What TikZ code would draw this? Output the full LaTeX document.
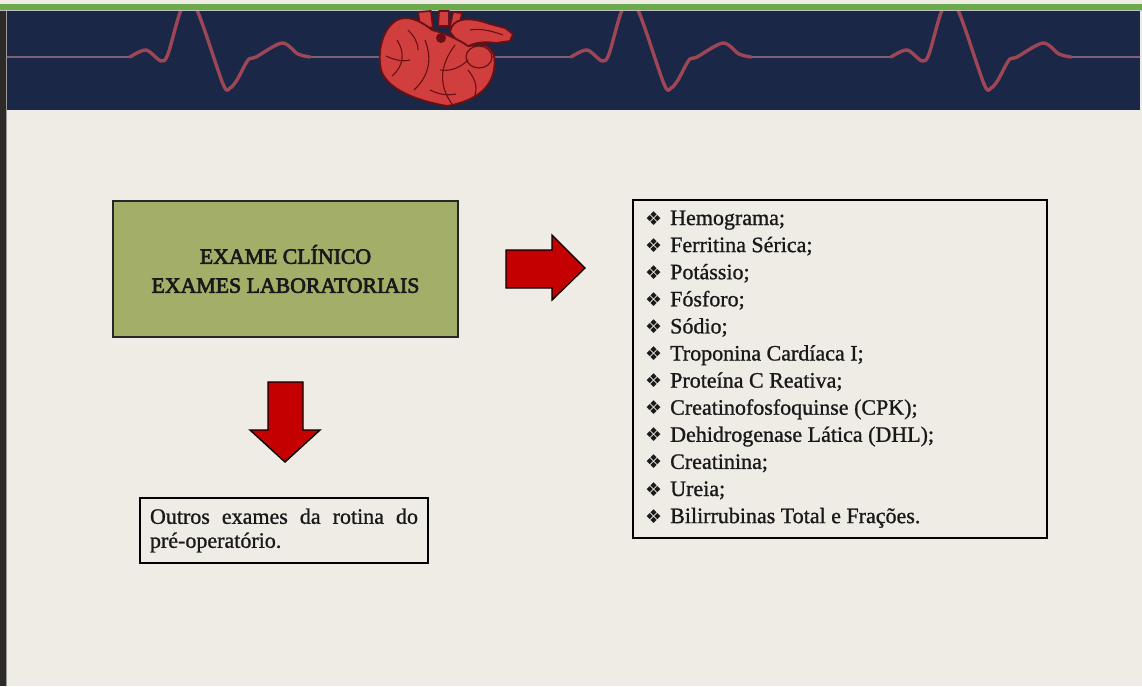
\documentclass[tikz,border=0pt]{standalone}
\usepackage{fontspec}
\setmainfont{Liberation Serif}[FakeBold=1]
\newfontfamily\textoforte{Liberation Serif}[FakeBold=3]
\newfontfamily\symfont{DejaVu Sans}

\definecolor{pagebg}{HTML}{EFECE6}
\definecolor{barverde}{HTML}{6AAA4C}
\definecolor{faixa}{HTML}{1B2746}
\definecolor{ecgcor}{HTML}{9C4656}
\definecolor{ecgbase}{HTML}{7C6274}
\definecolor{coracao}{HTML}{D03E3E}
\definecolor{coracaoesc}{HTML}{6A1014}
\definecolor{caixaverde}{HTML}{A3AF69}
\definecolor{setacor}{HTML}{C40000}

\tikzset{
	caixa/.style={draw=black, line width=1.8pt, rectangle, inner sep=0pt},
	seta/.style={fill=setacor, draw=black, line width=1.4pt, line join=miter},
	ecg/.style={draw=ecgcor, line width=3.4pt, line cap=round, line join=round},
	item/.style={anchor=base west, inner sep=0pt, font=\fontsize{22}{26}\selectfont},
}

\begin{document}
\begin{tikzpicture}[x=1pt, y=-1pt]
		\useasboundingbox (0,0) rectangle (1142,686);
		\fill[pagebg] (0,0) rectangle (1142,686);
		
		% faixa do topo
		\fill[barverde] (0,4) rectangle (1142,9.5);
		\fill[black!25] (0,9.5) rectangle (1142,11);
		\fill[faixa] (7,11) rectangle (1140,110);
		\fill[black!90!olive] (0,11) rectangle (6,686);
		\fill[black!40] (6,11) rectangle (7,686);
		
		% eletrocardiograma
		\begin{scope}
			\clip (7,11) rectangle (1140,110);
			\foreach \a/\b in {7/130, 310/571, 751/891, 1071/1140}
				\draw[ecg, draw=ecgbase, line width=2.2pt] (\a,57) -- (\b,57);
			\foreach \r in {190,631,951}
			{
				\draw[ecg] plot[smooth, tension=0.5] coordinates {({\r-60},57) ({\r-44},50) ({\r-29},61) ({\r-22},54) ({\r-8},8) ({\r+6},8) ({\r+33},84) ({\r+40},88) ({\r+47},80) ({\r+58},60) ({\r+66},57) ({\r+92},43) ({\r+108},54) ({\r+120},57)};
			}
		\end{scope}
		
		% coracao
		\begin{scope}[draw=coracaoesc, line width=1.8pt, line join=round]
			\filldraw[fill=coracao] (420,26) -- (418,12) -- (431,11) -- (433,28) -- cycle;
			\filldraw[fill=coracao] (438,26) -- (439,11) -- (449,11) -- (449,26) -- cycle;
			\filldraw[fill=coracao] (450,26) -- (453,12) -- (462,13) -- (459,28) -- cycle;
			\filldraw[fill=coracao] (450,32) .. controls (452,18) and (468,16) .. (490,24) -- (505,28) -- (513,34) -- (510,41) -- (496,43) .. controls (482,41) and (470,43) .. (464,50) -- cycle;
			\filldraw[fill=coracao] (397,20) .. controls (383,28) and (377,50) .. (381,70) .. controls (388,92) and (424,102) .. (447,106) .. controls (470,102) and (488,92) .. (493,74) .. controls (497,58) and (494,48) .. (484,45) -- (468,46) .. controls (458,39) and (444,33) .. (432,30) .. controls (420,20) and (407,15) .. cycle;
			\filldraw[fill=coracao, line width=1.2pt] (479,57) ellipse (13pt and 11pt);
		\end{scope}
		\begin{scope}[draw=coracaoesc, line width=1.1pt]
			\fill[coracaoesc] (441,38) ellipse (5pt and 5pt);
			\draw (455,45) .. controls (440,65) and (438,85) .. (452,104);
			\draw (425,40) .. controls (432,58) and (430,75) .. (414,90);
			\draw (397,40) .. controls (405,52) and (404,66) .. (392,76);
			\draw (468,70) .. controls (476,80) and (478,88) .. (474,98);
			\draw (440,70) .. controls (452,72) and (462,66) .. (468,60);
			\draw (470,30) .. controls (480,28) and (492,31) .. (503,35);
			\draw (408,30) .. controls (414,36) and (418,42) .. (418,50);
			\draw (386,56) .. controls (395,60) and (402,62) .. (410,60);
			\draw (430,90) .. controls (438,94) and (446,96) .. (456,94);
		\end{scope}
		
		% caixas
		\node[caixa, fill=caixaverde, draw=black!85, minimum width=345pt, minimum height=136pt, align=center, font=\textoforte\fontsize{21.8}{29}\selectfont, text=black!90] (exame) at (285.5,269) {EXAME CLÍNICO\\EXAMES LABORATORIAIS};
		\node[caixa, minimum width=414pt, minimum height=338pt] (lista) at (840,369) {};
		\node[caixa, minimum width=288pt, minimum height=65pt, align=left, font=\fontsize{22}{24}\selectfont, text=black!90] (outros) at (284,530.5) {\makebox[268pt][s]{Outros exames da rotina do}\\pré-operatório.};
		
		% itens da lista
		\foreach \txt [count=\i from 0] in {{Hemograma;}, {Ferritina Sérica;}, {Potássio;}, {Fósforo;}, {Sódio;}, {Troponina Cardíaca I;}, {Proteína C Reativa;}, {Creatinofosfoquinse (CPK);}, {Dehidrogenase Lática (DHL);}, {Creatinina;}, {Ureia;}, {Bilirrubinas Total e Frações.}}
		{
			\node[item, text=black!90] (item\i) at (645,{225+27.1*\i}) {\makebox[25pt][l]{\symfont\fontsize{19}{19}\selectfont ❖}\txt};
		}
		
		% setas
		\draw[seta] (506,250) -- (552,250) -- (552,235) -- (585,268) -- (552,300) -- (552,288) -- (506,288) -- cycle;
		\draw[seta] (268,382) -- (303,382) -- (303,430) -- (320,430) -- (285,462) -- (250,430) -- (268,430) -- cycle;
	\end{tikzpicture}
\end{document}
